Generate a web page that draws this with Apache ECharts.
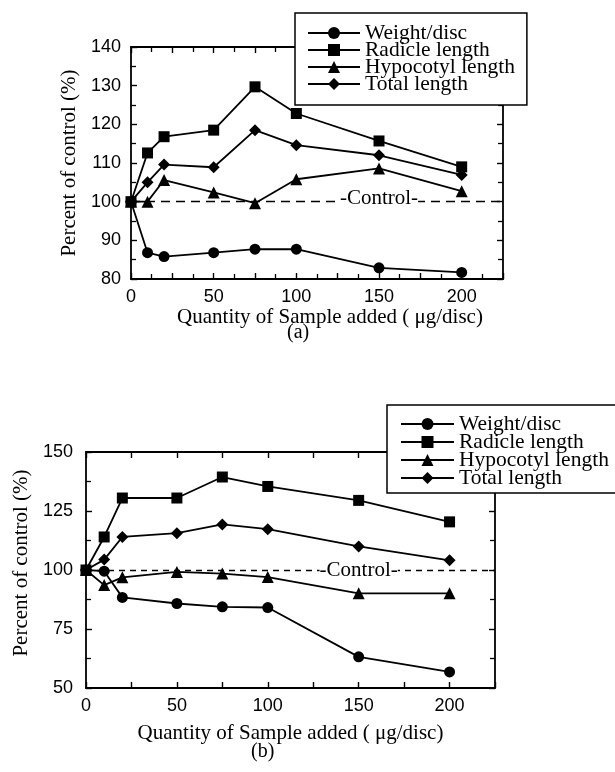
<!DOCTYPE html>
<html>
<head>
<meta charset="utf-8">
<script src="https://cdn.jsdelivr.net/npm/echarts@6/dist/echarts.min.js"></script>
<style>
html,body{margin:0;padding:0;background:#fff;}
#chart{width:615px;height:772px;}
</style>
</head>
<body>
<div id="chart"></div>
<script>
// ---- data ----
const doses = [0, 10, 20, 50, 75, 100, 150, 200];
const seriesNames = ['Weight/disc', 'Radicle length', 'Hypocotyl length', 'Total length'];
const symbols = ['circle', 'rect', 'triangle', 'diamond'];

const aWeight    = [100, 86.8, 85.8, 86.8, 87.7, 87.7, 82.9, 81.7];
const aRadicle   = [100, 112.6, 116.8, 118.5, 129.7, 122.8, 115.7, 109.0];
const aHypocotyl = [100, 100.0, 105.6, 102.4, 99.6, 105.8, 108.6, 102.7];
const aTotal     = [100, 105.0, 109.6, 108.9, 118.5, 114.6, 112.0, 106.9];

const bWeight    = [100, 99.5, 88.4, 85.8, 84.4, 84.1, 63.2, 56.8];
const bRadicle   = [100, 114.0, 130.5, 130.5, 139.4, 135.4, 129.5, 120.4];
const bHypocotyl = [100, 93.6, 96.9, 99.2, 98.5, 97.0, 90.1, 90.1];
const bTotal     = [100, 104.4, 114.0, 115.6, 119.3, 117.3, 110.0, 104.1];

const controlValue = 100;
const controlLabelX = 150;
const xTicksLabelled = [0, 50, 100, 150, 200];

const SERIF = '"Liberation Serif", "Times New Roman", serif';
const SANS = '"Liberation Sans", Arial, sans-serif';

function pairs(ys) { return doses.map((x, i) => [x, ys[i]]); }

function xAxisDef(grid, pos, minor, nameGap, namePad) {
  const ax = {
    gridIndex: grid, type: 'value', position: pos, min: 0, max: 225, interval: 25,
    axisLine: { show: true, onZero: false, lineStyle: { color: '#000', width: 1.8 } },
    axisTick: { show: true, inside: true, length: 6, lineStyle: { color: '#000', width: 1.4 } },
    minorTick: { show: minor, splitNumber: 2, length: 5, lineStyle: { color: '#000', width: 1.3 } },
    splitLine: { show: false },
    axisLabel: { show: pos === 'bottom', margin: 9, color: '#000', fontFamily: SANS, fontSize: 18,
      formatter: v => (xTicksLabelled.indexOf(v) >= 0 ? String(v) : '') }
  };
  if (pos === 'bottom') {
    ax.name = 'Quantity of Sample added ( \u03bcg/disc)';
    ax.nameLocation = 'middle';
    ax.nameGap = nameGap;
    ax.nameTextStyle = { color: '#000', fontFamily: SERIF, fontSize: 21, padding: namePad };
  }
  return ax;
}
function yAxisDef(grid, pos, min, max, interval, nameGap, namePad) {
  const ax = {
    gridIndex: grid, type: 'value', position: pos, min: min, max: max, interval: interval,
    axisLine: { show: true, onZero: false, lineStyle: { color: '#000', width: 1.8 } },
    axisTick: { show: true, inside: true, length: 6, lineStyle: { color: '#000', width: 1.4 } },
    minorTick: { show: true, splitNumber: 2, length: 5, lineStyle: { color: '#000', width: 1.3 } },
    splitLine: { show: false },
    axisLabel: { show: pos === 'left', margin: grid === 0 ? 10 : 13, color: '#000', fontFamily: SANS, fontSize: 18 }
  };
  if (pos === 'left') {
    ax.name = 'Percent of control (%)';
    ax.nameLocation = 'middle';
    ax.nameGap = nameGap;
    ax.nameTextStyle = { color: '#000', fontFamily: SERIF, fontSize: 21, padding: namePad };
  }
  return ax;
}

function lineSeries(name, sym, data, xi, yi, dash) {
  const s = {
    name: name, type: 'line', xAxisIndex: xi, yAxisIndex: yi, data: pairs(data),
    symbol: sym, symbolSize: sym === 'triangle' || sym === 'diamond' ? 12 : 11,
    lineStyle: { color: '#000', width: 1.8 }, itemStyle: { color: '#000' },
    z: 3
  };
  if (dash) {
    s.markLine = {
      silent: true, symbol: 'none', label: { show: false },
      lineStyle: { color: '#000', width: 1.3, type: dash },
      data: [[{ coord: [0, controlValue] }, { coord: [225, controlValue] }]]
    };
    s.markPoint = {
      silent: true, symbol: 'rect', symbolSize: 0,
      data: [{ coord: [controlLabelX, controlValue] }],
      label: { show: true, position: 'inside', formatter: '-Control-', color: '#000', fontFamily: SERIF, fontSize: 21,
        backgroundColor: '#fff', padding: [0, 0], offset: [0, xi === 0 ? -3 : 0] }
    };
  }
  return s;
}

const option = {
  animation: false,
  backgroundColor: '#fff',
  grid: [
    { left: 131, top: 47, width: 372, height: 232 },
    { left: 86, top: 452, width: 409, height: 236 }
  ],
  xAxis: [
    xAxisDef(0, 'bottom', true, 22, [0, 0, 0, 26]),
    xAxisDef(0, 'top', true),
    xAxisDef(1, 'bottom', false, 35, [0, 0, 0, 0]),
    xAxisDef(1, 'top', false)
  ],
  yAxis: [
    yAxisDef(0, 'left', 80, 140, 10, 50, [0, 0, 0, 0]),
    yAxisDef(0, 'right', 80, 140, 10),
    yAxisDef(1, 'left', 50, 150, 25, 53, [0, 0, 0, 14]),
    yAxisDef(1, 'right', 50, 150, 25)
  ],
  legend: [
    {
      orient: 'vertical', left: 295, top: 13, itemGap: -5, itemWidth: 52, itemHeight: 15,
      padding: [9, 12, 10, 12], backgroundColor: '#fff', borderColor: '#000', borderWidth: 1.5,
      data: seriesNames, selectedMode: false, z: 10,
      textStyle: { color: '#000', fontFamily: SERIF, fontSize: 21.5, lineHeight: 17 }
    },
    {
      orient: 'vertical', left: 387, top: 405, itemGap: -4, itemWidth: 53, itemHeight: 15,
      padding: [8, 20, 4, 13], backgroundColor: '#fff', borderColor: '#000', borderWidth: 1.5,
      data: seriesNames, selectedMode: false, z: 10,
      textStyle: { color: '#000', fontFamily: SERIF, fontSize: 21.5, lineHeight: 18 }
    }
  ],
  graphic: [
    { type: 'text', left: 287, top: 323, style: { text: '(a)', font: '20px ' + SERIF, fill: '#000' } },
    { type: 'text', left: 251, top: 742, style: { text: '(b)', font: '20px ' + SERIF, fill: '#000' } }
  ],
  series: [
    lineSeries(seriesNames[0], symbols[0], aWeight, 0, 0, [9, 6]),
    lineSeries(seriesNames[1], symbols[1], aRadicle, 0, 0),
    lineSeries(seriesNames[2], symbols[2], aHypocotyl, 0, 0),
    lineSeries(seriesNames[3], symbols[3], aTotal, 0, 0),
    lineSeries(seriesNames[0], symbols[0], bWeight, 2, 2, [6, 5]),
    lineSeries(seriesNames[1], symbols[1], bRadicle, 2, 2),
    lineSeries(seriesNames[2], symbols[2], bHypocotyl, 2, 2),
    lineSeries(seriesNames[3], symbols[3], bTotal, 2, 2)
  ]
};

const chart = echarts.init(document.getElementById('chart'), null, { renderer: 'canvas' });
chart.setOption(option);
</script>
</body>
</html>
